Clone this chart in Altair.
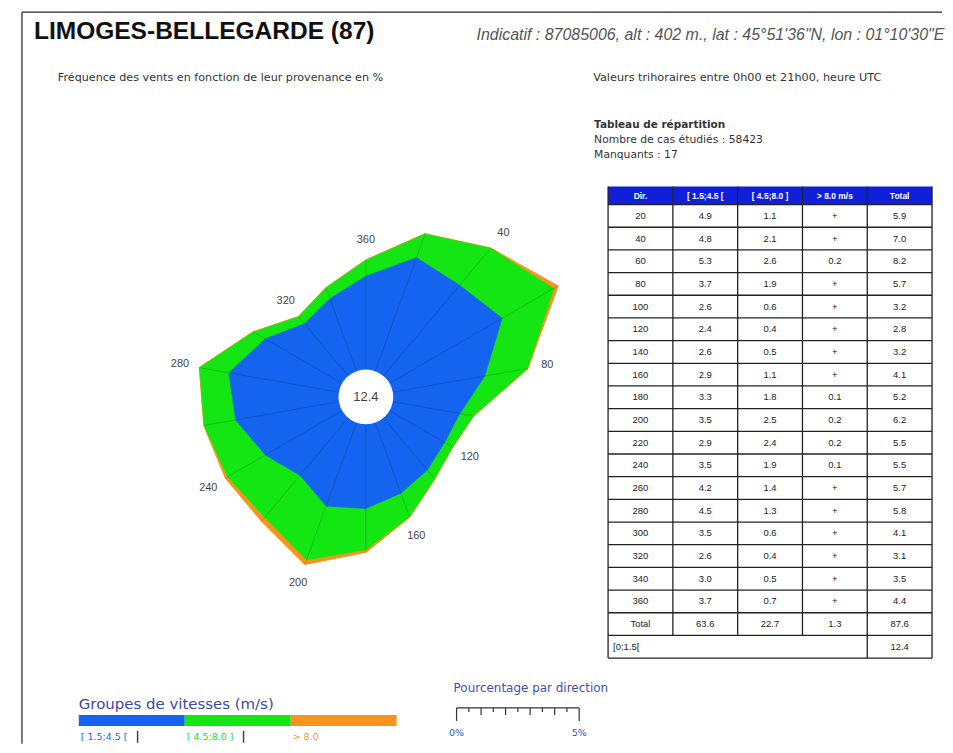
import math
import altair as alt
import pandas as pd

# ---------------- data ----------------
directions = [20, 40, 60, 80, 100, 120, 140, 160, 180, 200, 220, 240, 260, 280, 300, 320, 340, 360]
low = [4.9, 4.8, 5.3, 3.7, 2.6, 2.4, 2.6, 2.9, 3.3, 3.5, 2.9, 3.5, 4.2, 4.5, 3.5, 2.6, 3.0, 3.7]
mid = [1.1, 2.1, 2.6, 1.9, 0.6, 0.4, 0.5, 1.1, 1.8, 2.5, 2.4, 1.9, 1.4, 1.3, 0.6, 0.4, 0.5, 0.7]
high = ["+", "+", "0.2", "+", "+", "+", "+", "+", "0.1", "0.2", "0.2", "0.1", "+", "+", "+", "+", "+", "+"]
total = [5.9, 7.0, 8.2, 5.7, 3.2, 2.8, 3.2, 4.1, 5.2, 6.2, 5.5, 5.5, 5.7, 5.8, 4.1, 3.1, 3.5, 4.4]
sum_row = ["Total", "63.6", "22.7", "1.3", "87.6"]
calm_label = "[0;1.5["
calm = 12.4
header = ["Dir.", "[ 1.5;4.5 [", "[ 4.5;8.0 ]", "> 8.0 m/s", "Total"]
groups = ["[ 1.5;4.5 [", "[ 4.5;8.0 ]", "> 8.0"]
group_colors = ["#1464F0", "#14E614", "#F7941D"]
ruler_ticks = [0, 0.5, 1, 1.5, 2, 2.5, 3, 3.5, 4, 4.5, 5]
ruler_labels = ["0%", "5%"]

title = "LIMOGES-BELLEGARDE (87)"
station = "Indicatif : 87085006, alt : 402 m., lat : 45°51'36\"N, lon : 01°10'30\"E"
sub_left = "Fréquence des vents en fonction de leur provenance en %"
sub_right = "Valeurs trihoraires entre 0h00 et 21h00, heure UTC"
info = ["Tableau de répartition", "Nombre de cas étudiés : 58423", "Manquants : 17"]

# ---------------- layout ----------------
W, H = 937, 737
CX, CY = 367, 397
R0, K = 36, 23.0
HOLE = 31
FONT = "Liberation Sans"
SMALL = "DejaVu Sans"
BLUE, GREEN, ORANGE = group_colors

xs = alt.Scale(domain=[8, 945], nice=False, zero=False)
ys = alt.Scale(domain=[8, 745], nice=False, zero=False, reverse=True)
X = lambda f: alt.X(f, type="quantitative", scale=xs, axis=None)
Y = lambda f: alt.Y(f, type="quantitative", scale=ys, axis=None)

rose = pd.DataFrame({
    "dir": directions,
    "low": low,
    "mid": mid,
    "high": [0.0 if h == "+" else float(h) for h in high],
})
rose["c1"] = rose["low"]
rose["c2"] = rose["low"] + rose["mid"]
rose["c3"] = rose["c2"] + rose["high"]


def polar(chart, field, extra=0):
    return chart.transform_calculate(
        r=f"{R0} + {K} * datum.{field} + {extra}",
        x=f"{CX} + datum.r * sin(datum.dir * PI / 180)",
        y=f"{CY} - datum.r * cos(datum.dir * PI / 180)",
    )


def poly(field, color, sw):
    return polar(alt.Chart(rose), field).mark_line(
        interpolate="linear-closed", fill=color, stroke=color, strokeWidth=sw, fillOpacity=1
    ).encode(x=X("x"), y=Y("y"), order=alt.Order("dir:Q"))


layers = []
layers.append(poly("c3", ORANGE, 1.6))
layers.append(poly("c2", GREEN, 0.6))
layers.append(poly("c1", BLUE, 0.6))

# radial separators
layers.append(
    polar(alt.Chart(rose), "c3")
    .transform_calculate(x0=f"{CX}", y0=f"{CY}")
    .mark_rule(color="#000", opacity=0.2, strokeWidth=0.8)
    .encode(x=X("x0"), y=Y("y0"), x2="x:Q", y2="y:Q")
)

# calm hole
calm_df = pd.DataFrame({"calm": [calm]})
hole = alt.Chart(calm_df).transform_calculate(x=f"{CX}", y=f"{CY}")
layers.append(hole.mark_circle(size=math.pi * HOLE ** 2, color="white", opacity=1)
              .encode(x=X("x"), y=Y("y")))
layers.append(hole.mark_text(font=FONT, fontSize=13, color="#444")
              .encode(x=X("x"), y=Y("y"), text=alt.Text("calm:Q", format=".1f")))

# direction labels
layers.append(
    polar(alt.Chart(rose).transform_filter("datum.dir % 40 == 0"), "c3", 20)
    .mark_text(font=FONT, fontSize=11, color="#444")
    .encode(x=X("x"), y=Y("y"), text="dir:Q")
)

# ---------------- table ----------------
TX0, TY0, CW, RH, HH = 610, 204, 65, 22.75, 18
cells = []
for i, d in enumerate(directions):
    vals = [str(d), f"{low[i]:.1f}", f"{mid[i]:.1f}", high[i], f"{total[i]:.1f}"]
    for c, v in enumerate(vals):
        cells.append({"row": i, "col": c, "t": v})
for c, v in enumerate(sum_row):
    cells.append({"row": 18, "col": c, "t": v})
cells.append({"row": 19, "col": 4, "t": f"{calm:.1f}"})
cells_df = pd.DataFrame(cells)

head_df = pd.DataFrame({"col": list(range(5)), "t": header})
layers.append(
    alt.Chart(head_df)
    .transform_calculate(x=f"{TX0} + datum.col * {CW}", x2=f"{TX0} + (datum.col + 1) * {CW}",
                         y=f"{TY0 - HH}", y2=f"{TY0}")
    .mark_rect(color="#1020D8")
    .encode(x=X("x"), x2="x2:Q", y=Y("y"), y2="y2:Q")
)
layers.append(
    alt.Chart(head_df)
    .transform_calculate(x=f"{TX0} + (datum.col + 0.5) * {CW}", y=f"{TY0 - HH / 2}")
    .mark_text(font=FONT, fontSize=8.5, color="white", fontWeight="bold")
    .encode(x=X("x"), y=Y("y"), text="t:N")
)
layers.append(
    alt.Chart(cells_df)
    .transform_calculate(x=f"{TX0} + (datum.col + 0.5) * {CW}", y=f"{TY0} + (datum.row + 0.5) * {RH}")
    .mark_text(font=FONT, fontSize=9.5, color="#222")
    .encode(x=X("x"), y=Y("y"), text="t:N")
)
layers.append(
    alt.Chart(pd.DataFrame({"t": [calm_label]}))
    .transform_calculate(x=f"{TX0 + 5}", y=f"{TY0} + 19.5 * {RH}")
    .mark_text(font=FONT, fontSize=9.5, color="#222", align="left")
    .encode(x=X("x"), y=Y("y"), text="t:N")
)
hl = pd.DataFrame({"k": list(range(21))})
layers.append(
    alt.Chart(hl)
    .transform_calculate(x=f"{TX0}", x2=f"{TX0 + 5 * CW}", y=f"{TY0} + datum.k * {RH}")
    .mark_rule(color="#222", strokeWidth=1.3)
    .encode(x=X("x"), x2="x2:Q", y=Y("y"))
)
vl = pd.DataFrame({"k": list(range(6))})
layers.append(
    alt.Chart(vl)
    .transform_calculate(
        x=f"{TX0} + datum.k * {CW}", y=f"{TY0 - HH}",
        y2=f"{TY0} + ((datum.k >= 1 && datum.k <= 3) ? 19 : 20) * {RH}")
    .mark_rule(color="#222", strokeWidth=1.3)
    .encode(x=X("x"), y=Y("y"), y2="y2:Q")
)


# ---------------- texts ----------------
def label(text, x, y, size=10, color="#333", weight="normal", style="normal", align="left", font=FONT):
    return alt.Chart(pd.DataFrame({"t": [text]})).mark_text(
        align=align, baseline="middle", fontSize=size, color=color,
        fontWeight=weight, fontStyle=style, font=font
    ).encode(x=alt.value(x - 8), y=alt.value(y - 8), text="t:N")


layers.append(label(title, 34, 31, size=24.6, color="#111", weight="bold"))
layers.append(label(station, 478, 34, size=16, color="#555", style="italic"))
layers.append(label(sub_left, 58, 77, size=11.2, color="#333", font=SMALL))
layers.append(label(sub_right, 595, 77, size=11.3, color="#333", font=SMALL))
layers.append(label(info[0], 596, 124, size=10.5, color="#333", weight="bold", font=SMALL))
layers.append(label(info[1], 596, 139, size=10.8, color="#333", font=SMALL))
layers.append(label(info[2], 596, 154, size=10.8, color="#333", font=SMALL))

# ---------------- speed legend ----------------
LX0, LW = 79, 106.3
grp_df = pd.DataFrame({"i": list(range(3)), "g": groups})
cscale = alt.Scale(domain=groups, range=group_colors)
layers.append(label("Groupes de vitesses (m/s)", 79, 705, size=15, color="#3848A8", font=SMALL))
layers.append(
    alt.Chart(grp_df)
    .transform_calculate(x=f"{LX0} + datum.i * {LW}", x2=f"{LX0} + (datum.i + 1) * {LW}", y="716", y2="727")
    .mark_rect()
    .encode(x=X("x"), x2="x2:Q", y=Y("y"), y2="y2:Q", color=alt.Color("g:N", scale=cscale, legend=None))
)
layers.append(
    alt.Chart(grp_df)
    .transform_calculate(x=f"{LX0 + 2} + datum.i * {LW}", y="738")
    .mark_text(font=SMALL, fontSize=9.5, align="left")
    .encode(x=X("x"), y=Y("y"), text="g:N", color=alt.Color("g:N", scale=cscale, legend=None))
)
layers.append(
    alt.Chart(grp_df.iloc[:2])
    .transform_calculate(x=f"{LX0 + 59} + datum.i * {LW}", y="732", y2="744")
    .mark_rule(color="#444", strokeWidth=1.5)
    .encode(x=X("x"), y=Y("y"), y2="y2:Q")
)

# ---------------- percentage ruler ----------------
RX0, RY, RK = 458, 709, 24.6
layers.append(label("Pourcentage par direction", 455, 689, size=12, color="#4050B0", font=SMALL))
layers.append(
    alt.Chart(pd.DataFrame({"p": [ruler_ticks[0]], "q": [ruler_ticks[-1]]}))
    .transform_calculate(x=f"{RX0} + datum.p * {RK}", x2=f"{RX0} + datum.q * {RK}", y=f"{RY}")
    .mark_rule(color="#333", strokeWidth=1.2)
    .encode(x=X("x"), x2="x2:Q", y=Y("y"))
)
layers.append(
    alt.Chart(pd.DataFrame({"p": ruler_ticks}))
    .transform_calculate(
        x=f"{RX0} + datum.p * {RK}", y=f"{RY}",
        y2=f"{RY} + ((datum.p == 0 || datum.p == 5) ? 13 : ((datum.p % 1 == 0) ? 7 : 4))")
    .mark_rule(color="#333", strokeWidth=1.2)
    .encode(x=X("x"), y=Y("y"), y2="y2:Q")
)
layers.append(
    alt.Chart(pd.DataFrame({"p": [ruler_ticks[0], ruler_ticks[-1]], "t": ruler_labels}))
    .transform_calculate(x=f"{RX0} + datum.p * {RK}", y="734")
    .mark_text(font=SMALL, fontSize=9.5, color="#3050C0")
    .encode(x=X("x"), y=Y("y"), text="t:N")
)

# ---------------- page frame ----------------
layers.append(alt.Chart(pd.DataFrame({"a": [0]})).mark_rule(color="#222", strokeWidth=1.2)
              .encode(x=alt.value(22 - 8), x2=alt.value(945 - 8), y=alt.value(11 - 8)))
layers.append(alt.Chart(pd.DataFrame({"a": [0]})).mark_rule(color="#222", strokeWidth=1.2)
              .encode(x=alt.value(22 - 8), y=alt.value(11 - 8), y2=alt.value(745 - 8)))

chart = alt.layer(*layers).properties(width=W, height=H, padding=0).configure_view(stroke=None)
chart.save("out.html", embed_options={"renderer": "svg", "actions": False})
